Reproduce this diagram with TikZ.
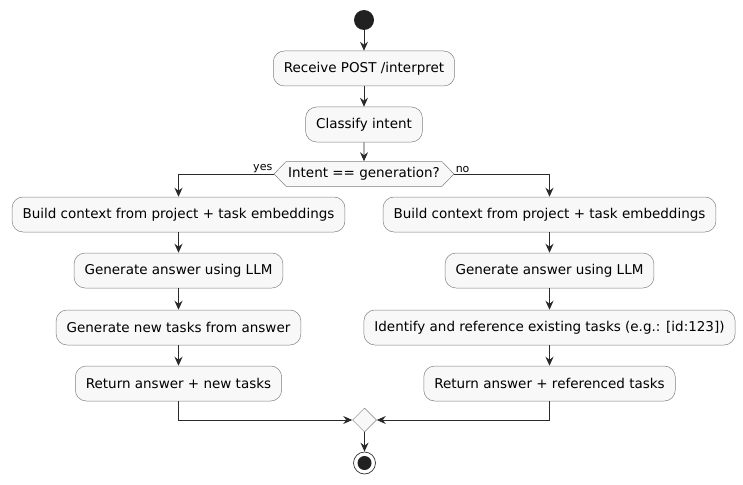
\documentclass[tikz,border=0pt]{standalone}
\usepackage{fontspec}
\setmainfont{DejaVu Sans}
\usetikzlibrary{positioning,shapes.geometric,shapes.symbols,arrows.meta}
\usepackage{xcolor}
\definecolor{actfill}{HTML}{F8F8F8}
\definecolor{lineblack}{HTML}{2A2A2A}

\begin{document}
\begin{tikzpicture}[x=1pt, y=-1pt, -{Stealth[length=9pt,width=8pt,inset=3pt]}, lineblack, line width=0.9pt,
	act/.style={rectangle, rounded corners=11pt, draw=black!50, line width=0.5pt, fill=actfill, text=black, minimum height=35pt, inner xsep=10.5pt, font=\fontsize{13.5}{16}\selectfont},
	cond/.style={signal, signal to=west and east, signal pointer angle=92, draw=black!50, line width=0.5pt, fill=actfill, text=black, minimum height=25pt, inner xsep=2pt, font=\fontsize{13.5}{16}\selectfont},
	merge/.style={diamond, draw=black!50, line width=0.5pt, fill=actfill, minimum size=24pt, inner sep=0pt},
	lbl/.style={text=black, font=\fontsize{11}{13}\selectfont, inner sep=1pt}]
	\useasboundingbox (0,0) rectangle (743,484);
	\node[circle, fill=black!87, minimum size=20pt, inner sep=0pt] (start) at (364,20) {};
	\node[act] (recv) [below of=start, node distance=48.5pt] {Receive POST /interpret};
	\node[act] (classify) [below of=recv, node distance=56pt] {Classify intent};
	\node[cond] (dec) [below of=classify, node distance=49.5pt] {Intent == generation?};
	% yes branch
	\node[act] (l1) [below of=dec, node distance=40.5pt, xshift=-185.5pt] {Build context from project + task embeddings};
	\node[act] (l2) [below of=l1, node distance=56pt] {Generate answer using LLM};
	\node[act] (l3) [below of=l2, node distance=57pt] {Generate new tasks from answer};
	\node[act] (l4) [below of=l3, node distance=56pt] {Return answer + new tasks};
	% no branch
	\node[act] (r1) [below of=dec, node distance=40.5pt, xshift=185.5pt] {Build context from project + task embeddings};
	\node[act] (r2) [below of=r1, node distance=56pt] {Generate answer using LLM};
	\node[act] (r3) [below of=r2, node distance=57pt] {Identify and reference existing tasks (e.g.: [id:123])};
	\node[act] (r4) [below of=r3, node distance=56pt] {Return answer + referenced tasks};
	\node[merge] (join) at (364.5,420) {};
	\node[circle, draw=black!80, line width=0.7pt, fill=white, minimum size=22pt, inner sep=0pt] (stop) [below of=join, node distance=43pt] {};
	\node[circle, fill=black!87, minimum size=14pt, inner sep=0pt] (stopdot) at (stop) {};
	\path (start) edge (recv);
	\path (recv) edge (classify);
	\path (classify) edge (dec);
	\draw (dec.west) -| (l1.north);
	\draw (dec.east) -| (r1.north);
	\node[lbl, anchor=south east] (yes) at (dec.west) {yes};
	\node[lbl, anchor=south west] (no) at (dec.east) {no};
	\path (l1) edge (l2);
	\path (l2) edge (l3);
	\path (l3) edge (l4);
	\path (r1) edge (r2);
	\path (r2) edge (r3);
	\path (r3) edge (r4);
	\draw (l4.south) |- (join.west);
	\draw (r4.south) |- (join.east);
	\path (join) edge (stop);
\end{tikzpicture}
\end{document}
